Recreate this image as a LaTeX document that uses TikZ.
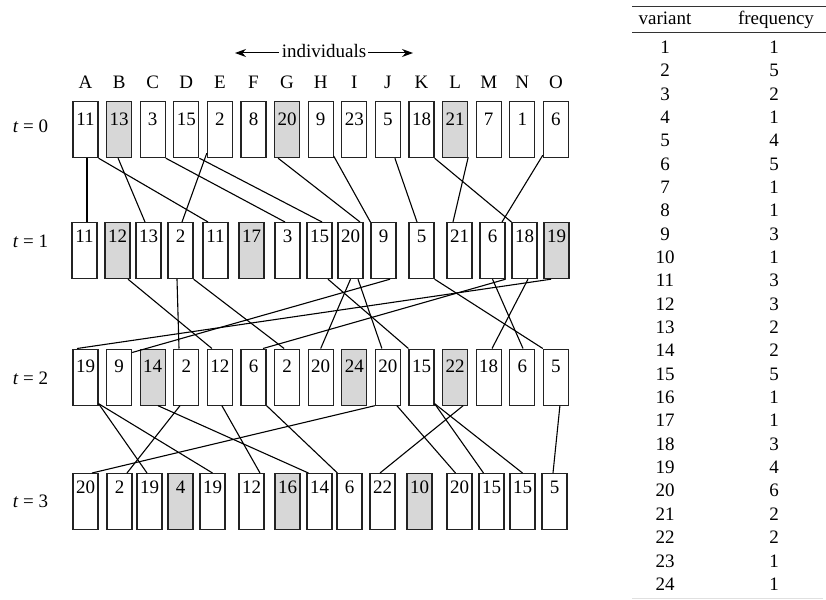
\documentclass[tikz,border=0pt]{standalone}
\usepackage{fontspec}
\setmainfont{Liberation Serif}
\usetikzlibrary{arrows.meta}

\definecolor{shade}{RGB}{215,215,215}
\definecolor{edge}{RGB}{35,35,35}

% one individual: name, left x, top y, value, style, baseline drop
\newcommand\cellbox[6]{%
  \node[#5] (#1) at (#2+12.5,#3) {};
  \node[num] (#1t) at ([yshift=-#6pt]#1.north) {#4};}

\begin{document}
\begin{tikzpicture}[x=1pt,y=-1pt,
  txt/.style={inner sep=0pt, font=\fontsize{19}{22}\selectfont},
  num/.style={txt, anchor=base},
  cell/.style={draw=edge, line width=1.2pt, fill=white, inner sep=0pt,
    minimum width=25pt, minimum height=56pt, anchor=north},
  newcell/.style={cell, fill=shade},
  link/.style={line width=1.1pt, black},
  rule/.style={line width=0.9pt, black!80}]
\useasboundingbox (0,0) rectangle (826,599);

% heading arrow
\node[num] (indiv) at (324,58) {individuals};
\coordinate (leftend) at (235,53);
\coordinate (rightend) at (413,53);
\draw[line width=1pt, -{Stealth[length=11pt,width=8pt]}] ([xshift=-3pt]indiv.west |- leftend) -- (leftend);
\draw[line width=1pt, -{Stealth[length=11pt,width=8pt]}] ([xshift=2pt]indiv.east |- rightend) -- (rightend);

% column letters
\foreach \l [count=\i from 0] in {A,B,C,D,E,F,G,H,I,J,K,L,M,N,O}
  \node[num] (col\l) at (85.5+33.6*\i,89) {\l};

% generation labels
\node[num] (t0) at (30.5,132) {\textit{t} = 0};
\node[num] (t1) at (30.5,247) {\textit{t} = 1};
\node[num] (t2) at (30.5,384) {\textit{t} = 2};
\node[num] (t3) at (30.5,507) {\textit{t} = 3};

% generation 0
\cellbox{r0c1}{73.0}{101}{11}{cell}{24}
\cellbox{r0c2}{106.6}{101}{13}{newcell}{24}
\cellbox{r0c3}{140.2}{101}{3}{cell}{24}
\cellbox{r0c4}{173.8}{101}{15}{cell}{24}
\cellbox{r0c5}{207.4}{101}{2}{cell}{24}
\cellbox{r0c6}{241.0}{101}{8}{cell}{24}
\cellbox{r0c7}{274.6}{101}{20}{newcell}{24}
\cellbox{r0c8}{308.2}{101}{9}{cell}{24}
\cellbox{r0c9}{341.8}{101}{23}{cell}{24}
\cellbox{r0c10}{375.4}{101}{5}{cell}{24}
\cellbox{r0c11}{409.0}{101}{18}{cell}{24}
\cellbox{r0c12}{442.6}{101}{21}{newcell}{24}
\cellbox{r0c13}{476.2}{101}{7}{cell}{24}
\cellbox{r0c14}{509.8}{101}{1}{cell}{24}
\cellbox{r0c15}{543.4}{101}{6}{cell}{24}

% generation 1
\cellbox{r1c1}{72}{222}{11}{cell}{20.5}
\cellbox{r1c2}{105}{222}{12}{newcell}{20.5}
\cellbox{r1c3}{136}{222}{13}{cell}{20.5}
\cellbox{r1c4}{168}{222}{2}{cell}{20.5}
\cellbox{r1c5}{203}{222}{11}{cell}{20.5}
\cellbox{r1c6}{239}{222}{17}{newcell}{20.5}
\cellbox{r1c7}{275}{222}{3}{cell}{20.5}
\cellbox{r1c8}{307}{222}{15}{cell}{20.5}
\cellbox{r1c9}{338}{222}{20}{cell}{20.5}
\cellbox{r1c10}{371}{222}{9}{cell}{20.5}
\cellbox{r1c11}{409}{222}{5}{cell}{20.5}
\cellbox{r1c12}{447}{222}{21}{cell}{20.5}
\cellbox{r1c13}{480}{222}{6}{cell}{20.5}
\cellbox{r1c14}{512}{222}{18}{cell}{20.5}
\cellbox{r1c15}{544}{222}{19}{newcell}{20.5}

% generation 2
\cellbox{r2c1}{73.0}{348.5}{19}{cell}{24}
\cellbox{r2c2}{106.6}{348.5}{9}{cell}{24}
\cellbox{r2c3}{140.2}{348.5}{14}{newcell}{24}
\cellbox{r2c4}{173.8}{348.5}{2}{cell}{24}
\cellbox{r2c5}{207.4}{348.5}{12}{cell}{24}
\cellbox{r2c6}{241.0}{348.5}{6}{cell}{24}
\cellbox{r2c7}{274.6}{348.5}{2}{cell}{24}
\cellbox{r2c8}{308.2}{348.5}{20}{cell}{24}
\cellbox{r2c9}{341.8}{348.5}{24}{newcell}{24}
\cellbox{r2c10}{375.4}{348.5}{20}{cell}{24}
\cellbox{r2c11}{409.0}{348.5}{15}{cell}{24}
\cellbox{r2c12}{442.6}{348.5}{22}{newcell}{24}
\cellbox{r2c13}{476.2}{348.5}{18}{cell}{24}
\cellbox{r2c14}{509.8}{348.5}{6}{cell}{24}
\cellbox{r2c15}{543.4}{348.5}{5}{cell}{24}

% generation 3
\cellbox{r3c1}{73}{473}{20}{cell}{20.5}
\cellbox{r3c2}{107}{473}{2}{cell}{20.5}
\cellbox{r3c3}{137}{473}{19}{cell}{20.5}
\cellbox{r3c4}{168}{473}{4}{newcell}{20.5}
\cellbox{r3c5}{200}{473}{19}{cell}{20.5}
\cellbox{r3c6}{239}{473}{12}{cell}{20.5}
\cellbox{r3c7}{275}{473}{16}{newcell}{20.5}
\cellbox{r3c8}{307}{473}{14}{cell}{20.5}
\cellbox{r3c9}{337}{473}{6}{cell}{20.5}
\cellbox{r3c10}{370}{473}{22}{cell}{20.5}
\cellbox{r3c11}{407}{473}{10}{newcell}{20.5}
\cellbox{r3c12}{447}{473}{20}{cell}{20.5}
\cellbox{r3c13}{479}{473}{15}{cell}{20.5}
\cellbox{r3c14}{510}{473}{15}{cell}{20.5}
\cellbox{r3c15}{542}{473}{5}{cell}{20.5}

% copying from generation 0 to 1
\draw[link] ([xshift=1.5pt]r0c1.south) -- ([xshift=2.5pt]r1c1.north);
\draw[link] (r0c1.south east) -- ([xshift=-7.5pt]r1c5.north);
\draw[link] ([xshift=-1pt]r0c2.south) -- ([xshift=-3.5pt]r1c3.north);
\draw[link] (r0c3.south east) -- ([xshift=-2.5pt]r1c7.north);
\draw[link] (r0c4.south east) -- ([xshift=2.5pt]r1c8.north);
\draw[link] ([yshift=5pt]r0c5.south west) -- ([xshift=1.5pt]r1c4.north);
\draw[link] ([xshift=-9pt]r0c7.south) -- ([xshift=9.5pt]r1c9.north);
\draw[link] ([yshift=2pt]r0c8.south east) -- (r1c10.north west);
\draw[link] ([xshift=7pt]r0c10.south) -- ([xshift=-4.5pt]r1c11.north);
\draw[link] (r0c11.south east) -- (r1c14.north west);
\draw[link] ([yshift=1pt]r0c12.south east) -- ([xshift=-6.5pt]r1c12.north);
\draw[link] ([yshift=3pt]r0c15.south west) -- ([xshift=9.5pt]r1c13.north);

% copying from generation 1 to 2
\draw[link] ([xshift=10.5pt]r1c2.south) -- ([xshift=-8pt]r2c5.north);
\draw[link] ([xshift=-3.5pt]r1c4.south) -- ([xshift=-7.3pt]r2c4.north);
\draw[link] (r1c4.south east) -- ([xshift=-3pt]r2c7.north);
\draw[link] ([xshift=8.5pt]r1c8.south) -- (r2c11.north west);
\draw[link] (r1c9.south) -- (r2c8.north);
\draw[link] ([xshift=7.5pt]r1c9.south) -- ([xshift=-6pt]r2c10.north);
\draw[link] ([xshift=6.5pt]r1c10.south) -- ([yshift=-4pt]r2c2.north east);
\draw[link] (r1c11.south east) -- (r2c15.north west);
\draw[link] (r1c13.south) -- ([xshift=0.7pt]r2c14.north);
\draw[link] (r1c13.south east) -- ([xshift=9.5pt]r2c6.north);
\draw[link] ([xshift=3.5pt]r1c14.south) -- ([xshift=3.3pt]r2c13.north);
\draw[link] ([xshift=-5.5pt]r1c15.south) -- ([xshift=-8.5pt]r2c1.north);

% copying from generation 2 to 3
\draw[link] ([yshift=2pt]r2c1.south east) -- ([xshift=-2.5pt]r3c3.north);
\draw[link] ([yshift=2pt]r2c1.south east) -- (r3c5.north);
\draw[link] ([xshift=5.3pt]r2c3.south) -- ([xshift=2pt]r3c8.north west);
\draw[link] ([xshift=-6.3pt]r2c4.south) -- ([xshift=7.5pt]r3c2.north);
\draw[link] ([xshift=2pt]r2c5.south) -- ([xshift=8.5pt]r3c6.north);
\draw[link] (r2c6.south east) -- ([xshift=1pt]r3c9.north west);
\draw[link] (r2c10.south west) -- ([xshift=6.5pt]r3c1.north);
\draw[link] ([xshift=9pt]r2c10.south) -- ([xshift=-4pt]r3c12.north);
\draw[link] ([yshift=2pt]r2c11.south east) -- ([xshift=-8pt]r3c13.north);
\draw[link] ([yshift=2pt]r2c11.south east) -- (r3c14.north);
\draw[link] ([xshift=8pt]r2c12.south) -- ([xshift=-2.5pt]r3c10.north);
\draw[link] ([xshift=4pt]r2c15.south) -- ([xshift=-1.5pt]r3c15.north);

% frequency table
\coordinate (tl) at (632,6);
\coordinate (tr) at (826,6);
\draw[rule] (tl) -- (tr);
\node[num] (hvar) at (665,25) {variant};
\node[num] (hfreq) at (776,25) {frequency};
\coordinate (hl) at (632,32);
\coordinate (hr) at (826,32);
\draw[rule] (hl) -- (hr);
\foreach \f [count=\i] in {1,5,2,1,4,5,1,1,3,1,3,3,2,2,5,1,1,3,4,6,2,2,1,1} {
  \node[num] (v\i) at (665,53.3+23.35*\i-23.35) {\i};
  \node[num] (f\i) at (774,53.3+23.35*\i-23.35) {\f};
}
\coordinate (bl) at (632,598);
\coordinate (br) at (823,598);
\draw[line width=0.8pt, black!12] (bl) -- (br);
\end{tikzpicture}
\end{document}
